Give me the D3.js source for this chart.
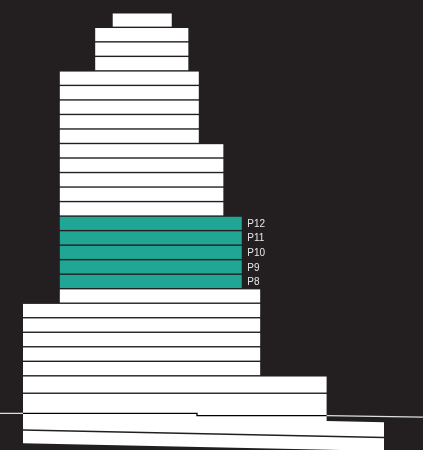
<!DOCTYPE html>
<html>
<head>
<meta charset="utf-8">
<script src="https://cdn.jsdelivr.net/npm/d3@7"></script>
<style>
  html, body { margin: 0; padding: 0; background: #231f20; overflow: hidden; }
  svg { display: block; }
</style>
</head>
<body>
<svg id="chart" width="423" height="450"></svg>
<script>
// ---- data ----
// floors listed from bottom (basement) to top
const floorNames = ["B2","B1","P0","P1","P2","P3","P4","P5","P6","P7","P8","P9","P10","P11","P12",
  "P13","P14","P15","P16","P17","P18","P19","P20","P21","P22","P23","P24","P25","P26"];
// storey heights (m)
const floorHeights = [2.9, 3.3, 4.0, 3.6, 3.0, 3.0, 3.0, 3.0, 3.0, 3.0, 3.0, 3.0, 3.0, 3.0, 3.0,
  3.0, 3.0, 3.0, 3.0, 3.0, 3.0, 3.0, 3.0, 3.0, 3.0, 3.0, 3.0, 3.0, 3.0];
// footprint extents along the facade (0-100)
const floorLeft = [0, 0, 0, 0, 0, 0, 0, 0, 0, 10.2, 10.2, 10.2, 10.2, 10.2, 10.2,
  10.2, 10.2, 10.2, 10.2, 10.2, 10.2, 10.2, 10.2, 10.2, 10.2, 20.0, 20.0, 20.0, 24.85];
const floorRight = [100, 100, 84.1, 84.1, 65.7, 65.7, 65.7, 65.7, 65.7, 65.7, 60.6, 60.6, 60.6, 60.6, 60.6,
  55.5, 55.5, 55.5, 55.5, 55.5, 48.7, 48.7, 48.7, 48.7, 48.7, 45.8, 45.8, 45.8, 41.2];
const basementCount = 2;
const highlightedFloors = ["P8","P9","P10","P11","P12"];
// ground surface profile [position, elevation m]
const groundProfile = [[-6.4, 0], [48.2, 0], [48.2, -0.5], [84.1, -0.5], [110.8, -0.77]];
const basementTilt = 1.57; // elevation drop (m) across the basement width

// ---- build floors with elevations ----
const floors = [];
let below = 0;
for (let i = basementCount - 1; i >= 0; i--) {
  const top = below;
  below -= floorHeights[i];
  floors[i] = { name: floorNames[i], top: top, bottom: below, left: floorLeft[i], right: floorRight[i], basement: true };
}
let elev = 0;
for (let i = basementCount; i < floorNames.length; i++) {
  const bottom = elev;
  elev += floorHeights[i];
  floors[i] = { name: floorNames[i], top: elev, bottom: bottom, left: floorLeft[i], right: floorRight[i], basement: false };
}
const topElev = elev;

// ---- scales ----
const W = 423, H = 450;
const x = d3.scaleLinear().domain([0, 100]).range([23, 384]);
const y = d3.scaleLinear().domain([0, topElev]).range([413.3, 13.5]);
const gap = 1.4;

const svg = d3.select("#chart");
svg.append("rect").attr("width", W).attr("height", H).attr("fill", "#231f20");

const above = floors.filter(f => !f.basement);
const groundFloor = above[0];
const minGround = d3.min(groundProfile, d => d[1]);

// above-ground floors
svg.append("g").selectAll("rect")
  .data(above)
  .join("rect")
  .attr("x", d => x(d.left))
  .attr("y", d => y(d.top))
  .attr("width", d => x(d.right) - x(d.left))
  .attr("height", d => (d === groundFloor ? y(minGround) : y(d.bottom) - gap) - y(d.top))
  .attr("fill", d => highlightedFloors.includes(d.name) ? "#21a696" : "#ffffff");

// basement floors (tilted by perspective)
const tiltY = (e, p) => y(e - basementTilt * p / 100);
const basements = floors.filter(f => f.basement);
const line = d3.line();
svg.append("g").selectAll("path")
  .data(basements)
  .join("path")
  .attr("d", d => {
    let pts;
    if (d.top === 0) {
      pts = [
        [x(d.left), y(minGround)],
        [x(groundFloor.right), y(minGround)],
        [x(groundFloor.right), tiltY(d.top, groundFloor.right) + gap],
        [x(d.right), tiltY(d.top, d.right) + gap]
      ];
    } else {
      pts = [
        [x(d.left), tiltY(d.top, d.left) + gap],
        [x(d.right), tiltY(d.top, d.right) + gap]
      ];
    }
    pts.push([x(d.right), tiltY(d.bottom, d.right)]);
    pts.push([x(d.left), tiltY(d.bottom, d.left)]);
    return line(pts) + "Z";
  })
  .attr("fill", "#ffffff");

// ground line
svg.append("path")
  .attr("d", d3.line().x(d => x(d[0])).y(d => y(d[1])).curve(d3.curveLinear)(groundProfile))
  .attr("fill", "none")
  .attr("stroke", "#ffffff")
  .attr("stroke-width", 1.3)
  .style("mix-blend-mode", "difference");

// labels for highlighted floors
svg.append("g").selectAll("text")
  .data(above.filter(f => highlightedFloors.includes(f.name)))
  .join("text")
  .attr("x", d => x(d.right) + 5.6)
  .attr("y", d => (y(d.top) + y(d.bottom) - gap) / 2)
  .attr("dy", "0.36em")
  .attr("font-family", "'Liberation Sans', Arial, sans-serif")
  .attr("font-size", 10)
  .attr("fill", "#e8e8e8")
  .text(d => d.name);
</script>
</body>
</html>
